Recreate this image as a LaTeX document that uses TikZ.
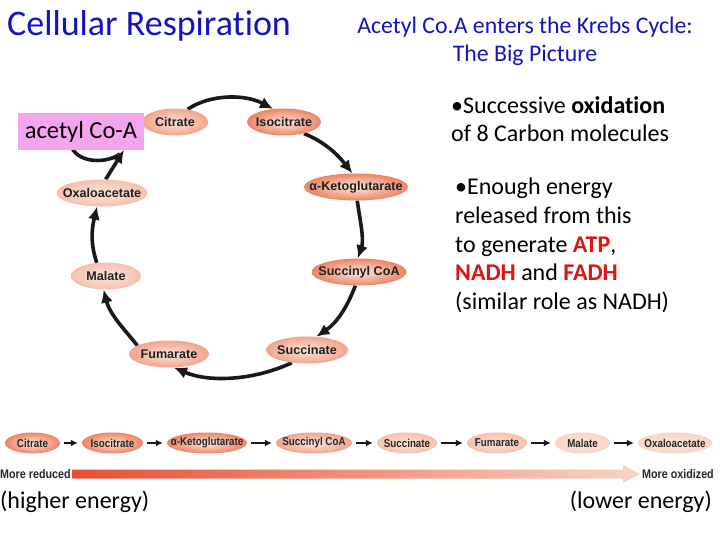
\documentclass[tikz,border=0pt]{standalone}
\usepackage{fontspec}
\setmainfont{Carlito}[Ligatures=NoCommon]
\newfontfamily\lsans{Liberation Sans}
\newfontfamily\lcond[FakeStretch=0.86]{Liberation Sans}
\usetikzlibrary{shapes.geometric,arrows.meta,backgrounds}
\newcommand{\zw}[1]{\makebox[0pt][c]{#1}}
\definecolor{titleblue}{RGB}{20,20,190}
\definecolor{pinkbox}{RGB}{245,165,238}
\definecolor{redtxt}{RGB}{220,20,20}
\definecolor{salA}{RGB}{236,132,100}
\definecolor{salB}{RGB}{242,163,138}
\definecolor{salC}{RGB}{246,192,172}
\definecolor{salD}{RGB}{249,212,197}
\definecolor{salin}{RGB}{253,232,222}
\definecolor{arr}{RGB}{25,25,25}
\tikzset{
  cyc/.style={ellipse, inner sep=0pt, minimum height=27pt, inner color=salin,
    font=\lsans\bfseries\fontsize{12.6}{15}\selectfont, text=black!88},
  row/.style={ellipse, inner sep=0pt, minimum height=21pt, inner color=salin,
    font=\lcond\bfseries\fontsize{11.4}{13}\selectfont, text=black!85},
  cycarrow/.style={line width=3.6pt, draw=arr, -{Latex[length=13pt,width=12pt]}},
  rowarrow/.style={line width=2.2pt, draw=arr, -{Latex[length=7pt,width=7pt]}},
  bigtxt/.style={font=\fontsize{24}{28.6}\selectfont, align=left},
  lbl/.style={font=\lcond\bfseries\fontsize{12.5}{14}\selectfont, text=black!85}
}
\begin{document}
\begin{tikzpicture}[x=1pt,y=-1pt]
\useasboundingbox (0,0) rectangle (720,540);
% titles
\node[anchor=west, text=titleblue, font=\fontsize{36}{40}\selectfont, inner sep=0pt] (title) at (7,26) {Cellular Respiration};
\node[text=titleblue, font=\fontsize{23.8}{28}\selectfont, align=center, inner sep=0pt] (head) at (525,41) {Acetyl Co.A enters the Krebs Cycle:\\The Big Picture};
% cycle nodes
\node[cyc, outer color=salB, minimum width=66pt] (cit) at (175,122) {\zw{Citrate}};
\node[cyc, outer color=salA, minimum width=74pt] (iso) at (284,122) {\zw{Isocitrate}};
\node[cyc, outer color=salA, minimum width=104pt] (akg) at (356,187) {\zw{α-Ketoglutarate}};
\node[cyc, outer color=salA, minimum width=95pt] (scoa) at (359,272) {\zw{Succinyl CoA}};
\node[cyc, outer color=salB, minimum width=82pt] (succ) at (307,350) {\zw{Succinate}};
\node[cyc, outer color=salB, minimum width=80pt] (fum) at (169,354) {\zw{Fumarate}};
\node[cyc, outer color=salC, minimum width=70pt] (mal) at (106,276) {\zw{Malate}};
\node[cyc, outer color=salC, minimum width=91pt] (oxa) at (102,193) {\zw{Oxaloacetate}};
\node[fill=pinkbox, minimum width=126pt, minimum height=37pt, inner sep=0pt, font=\fontsize{24.5}{28}\selectfont] (acoa) at (81,131.5) {acetyl Co-A};
\coordinate (tip) at (124,150);
\coordinate (acin) at (72,148);
\begin{scope}[on background layer]
\draw[cycarrow] (cit.45) .. controls (210,94) and (245,94) .. (iso.130);
\draw[cycarrow] (iso.-30) .. controls (325,142) and (338,155) .. (akg.105);
\draw[cycarrow] (akg.-85) .. controls (361,225) and (364,240) .. (scoa.95);
\draw[cycarrow] (scoa.-105) .. controls (348,305) and (338,322) .. (succ.55);
\draw[cycarrow] (succ.-140) .. controls (255,380) and (210,383) .. (fum.-70);
\draw[cycarrow] (fum.165) .. controls (125,330) and (110,315) .. (mal.-100);
\draw[cycarrow] (mal.125) .. controls (91,245) and (91,232) .. (oxa.-110);
\draw[cycarrow] (oxa.75) -- (tip);
\draw[line width=3.6pt, draw=arr] (acin) .. controls (80,164) and (108,163) .. (120,154);
\end{scope}
% right text
\node[bigtxt, anchor=north west, inner sep=0pt] (b1) at (451,96) {•Successive \textbf{oxidation}\\of 8 Carbon molecules};
\node[bigtxt, anchor=north west, inner sep=0pt] (b2) at (455,178) {•Enough energy\\released from this\\to generate \textbf{\color{redtxt}ATP},\\\textbf{\color{redtxt}NADH} and \textbf{\color{redtxt}FADH}\\(similar role as NADH)};
% bottom row
\node[row, outer color=salA, minimum width=55pt] (r1) at (32.5,443) {\zw{Citrate}};
\node[row, outer color=salA, minimum width=61pt] (r2) at (112.5,443) {\zw{Isocitrate}};
\node[row, outer color=salA, minimum width=80pt] (r3) at (207,443) {\zw{α-Ketoglutarate}};
\node[row, outer color=salB, minimum width=76pt] (r4) at (314,443) {\zw{Succinyl CoA}};
\node[row, outer color=salC, minimum width=60pt] (r5) at (407,443) {\zw{Succinate}};
\node[row, outer color=salC, minimum width=60pt] (r6) at (497,443) {\zw{Fumarate}};
\node[row, outer color=salD, minimum width=55pt] (r7) at (582.5,443) {\zw{Malate}};
\node[row, outer color=salD, minimum width=74pt] (r8) at (675,443) {\zw{Oxaloacetate}};
\foreach \a/\b in {r1/r2,r2/r3,r3/r4,r4/r5,r5/r6,r6/r7,r7/r8}
  \draw[rowarrow] ([xshift=4pt]\a.east) -- ([xshift=-4pt]\b.west);
% gradient arrow
\shade[left color={rgb,255:red,232;green,78;blue,52}, right color={rgb,255:red,250;green,212;blue,196}]
  (72,469.5) -- (623,469.5) -- (623,465) -- (640,474) -- (623,483) -- (623,478.5) -- (72,478.5) -- cycle;
\node[lbl, anchor=west, inner sep=0pt] (mr) at (0,474) {More reduced};
\node[lbl, anchor=east, inner sep=0pt] (mo) at (714,474) {More oxidized};
\node[font=\fontsize{24}{28}\selectfont, anchor=west, inner sep=0pt] (he) at (0,502) {(higher energy)};
\node[font=\fontsize{24}{28}\selectfont, anchor=east, inner sep=0pt] (le) at (712,502) {(lower energy)};
\end{tikzpicture}
\end{document}
